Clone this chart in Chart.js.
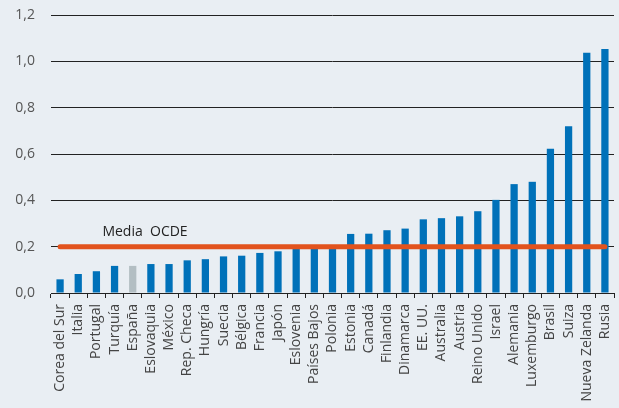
<!DOCTYPE html>
<html>
<head>
<meta charset="utf-8">
<script src="https://cdn.jsdelivr.net/npm/chart.js@4"></script>
<style>
  html, body { margin: 0; padding: 0; background: #e9eef3; }
  #wrap { width: 619px; height: 408px; position: relative; }
</style>
</head>
<body>
<div id="wrap"><canvas id="chart"></canvas></div>
<script>
// Datos por país
const paises = ['Corea del Sur', 'Italia', 'Portugal', 'Turquía', 'España', 'Eslovaquia', 'México',
  'Rep. Checa', 'Hungría', 'Suecia', 'Bélgica', 'Francia', 'Japón', 'Eslovenia', 'Países Bajos',
  'Polonia', 'Estonia', 'Canadá', 'Finlandia', 'Dinamarca', 'EE. UU.', 'Australia', 'Austria',
  'Reino Unido', 'Israel', 'Alemania', 'Luxemburgo', 'Brasil', 'Suiza', 'Nueva Zelanda', 'Rusia'];
const valores = [0.059, 0.082, 0.094, 0.117, 0.117, 0.125, 0.125, 0.141, 0.146, 0.158, 0.161,
  0.173, 0.180, 0.193, 0.195, 0.195, 0.255, 0.256, 0.271, 0.278, 0.318, 0.323, 0.331, 0.353,
  0.402, 0.470, 0.480, 0.623, 0.720, 1.037, 1.053];
const mediaOCDE = 0.2;
const yTicks = [0, 0.2, 0.4, 0.6, 0.8, 1.0, 1.2];

const azul = '#0071b9';
const gris = '#b3bec3';
const naranja = '#e2531d';

// Etiqueta de la media
const mediaLabel = {
    id: 'mediaLabel',
    afterDatasetsDraw(chart) {
        const ctx = chart.ctx;
        const x = chart.scales.x.getPixelForValue(2) + 6;
        const y = chart.scales.y.getPixelForValue(mediaOCDE) - 8;
        ctx.save();
        ctx.font = '500 14px "Open Sans"';
        ctx.fillStyle = '#222';
        ctx.textBaseline = 'bottom';
        ctx.fillText('Media  OCDE', x, y);
        ctx.restore();
    }
};

new Chart(document.getElementById('chart'), {
    type: 'bar',
    data: {
        labels: paises,
        datasets: [
            {
                type: 'line',
                data: paises.map(() => mediaOCDE),
                borderColor: naranja,
                borderWidth: 5,
                borderCapStyle: 'round',
                pointRadius: 0,
                order: 0
            },
            {
                data: valores,
                backgroundColor: paises.map(p => p === 'España' ? gris : azul),
                categoryPercentage: 1,
                barPercentage: 0.4,
                order: 1
            }
        ]
    },
    options: {
        responsive: true,
        maintainAspectRatio: false,
        animation: false,
        layout: { padding: { top: 0, right: 5, left: 0, bottom: 0 } },
        plugins: {
            legend: { display: false },
            tooltip: { enabled: false }
        },
        scales: {
            x: {
                offset: true,
                afterFit: s => { s.height = 115; s.paddingLeft = 0; s.paddingRight = 0; },
                border: { display: true, color: '#222', width: 1 },
                grid: {
                    offset: true,
                    drawOnChartArea: false,
                    drawTicks: true,
                    tickLength: 5,
                    color: '#222'
                },
                ticks: {
                    minRotation: 90,
                    maxRotation: 90,
                    autoSkip: false,
                    padding: 6,
                    color: '#444',
                    font: { family: '"Open Sans"', size: 14 }
                }
            },
            y: {
                min: 0,
                max: 1.2,
                afterFit: s => { s.width = 51; s.paddingTop = 15; s.paddingBottom = 0; },
                afterBuildTicks: s => { s.ticks = yTicks.map(v => ({ value: v })); },
                border: { display: false },
                grid: { color: '#222', lineWidth: 1, drawTicks: false },
                ticks: {
                    padding: 16,
                    color: '#555',
                    font: { family: '"Open Sans"', size: 14 },
                    callback: v => v.toFixed(1).replace('.', ',')
                }
            }
        }
    },
    plugins: [mediaLabel]
});
</script>
</body>
</html>
